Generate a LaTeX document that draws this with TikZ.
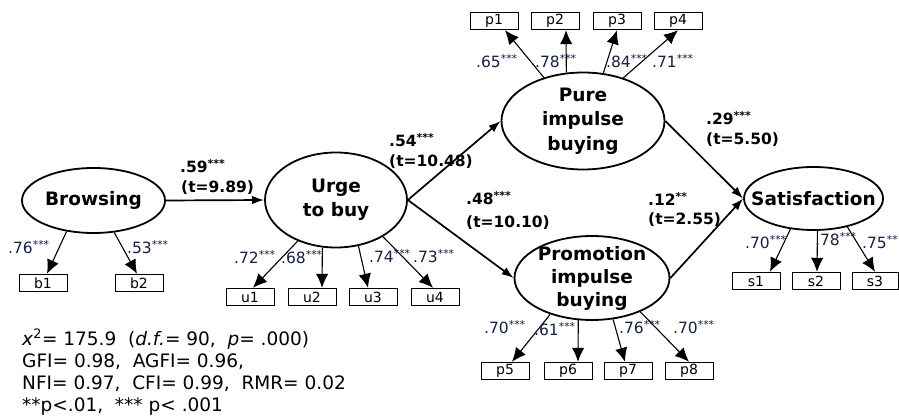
\documentclass[tikz,border=0pt]{standalone}
\usepackage{fontspec}
\setmainfont{DejaVu Sans}
\usetikzlibrary{shapes.geometric,arrows.meta}
\definecolor{loadc}{RGB}{22,32,72}
\begin{document}
\begin{tikzpicture}[x=1pt,y=-1pt,
  lat/.style={draw, ellipse, line width=1.8pt, inner sep=0pt},
  latlbl/.style={font=\fontsize{18.5}{24.5}\selectfont\bfseries, align=center, inner sep=0pt},
  obs/.style={draw, rectangle, line width=0.9pt, minimum width=48pt, minimum height=17.5pt, inner sep=0pt, font=\fontsize{14}{15}\selectfont},
  pth/.style={line width=1.7pt, -{Latex[length=12pt,width=8.5pt]}},
  load/.style={line width=1.1pt, -{Latex[length=14pt,width=12.5pt]}},
  coef/.style={font=\fontsize{15.5}{18}\selectfont\bfseries, anchor=base west, inner sep=0pt},
  ld/.style={font=\fontsize{15.5}{17}\selectfont, text=loadc, anchor=base west, inner sep=0pt},
  stat/.style={font=\fontsize{18.5}{21}\selectfont, anchor=base west, inner sep=0pt}]
\useasboundingbox (0,0) rectangle (899,419);
\fill[white] (0,0) rectangle (899,419);

% latent variables
\node[lat, minimum width=143pt, minimum height=65pt] (brow) at (93.5,200.5) {};
\node[latlbl] (browT) at (brow) {Browsing};
\node[lat, minimum width=142pt, minimum height=95pt] (urge) at (336,200) {};
\node[latlbl] (urgeT) at (urge) {Urge\\to buy};
\node[lat, minimum width=163pt, minimum height=97pt] (pure) at (583,121) {};
\node[latlbl] (pureT) at (pure) {Pure\\impulse\\buying};
\node[lat, minimum width=155pt, minimum height=84pt] (prom) at (592,278) {};
\node[latlbl, font=\fontsize{18.5}{23}\selectfont\bfseries] (promT) at (prom) {Promotion\\impulse\\buying};
\node[lat, minimum width=139pt, minimum height=63pt] (sat) at (813.5,198.5) {};
\node[latlbl] (satT) at (sat) {Satisfaction};

% observed variables
\node[obs] (p1) at (494,21) {p1};
\node[obs] (p2) at (555,21) {p2};
\node[obs] (p3) at (617,21) {p3};
\node[obs] (p4) at (678,21) {p4};
\node[obs] (b1) at (43,283) {b1};
\node[obs] (b2) at (139,283) {b2};
\node[obs] (u1) at (250,297) {u1};
\node[obs] (u2) at (312,297) {u2};
\node[obs] (u3) at (373,297) {u3};
\node[obs] (u4) at (435,297) {u4};
\node[obs] (p5) at (505,371) {p5};
\node[obs] (p6) at (568,371) {p6};
\node[obs] (p7) at (628,371) {p7};
\node[obs] (p8) at (689,371) {p8};
\node[obs] (s1) at (756,281) {s1};
\node[obs] (s2) at (816,281) {s2};
\node[obs, minimum width=46pt] (s3) at (875,281) {s3};

% structural paths
\draw[pth] (brow.east) -- (urge.west);
\draw[pth] (urge.east) -- (pure.west);
\draw[pth] (urge.east) -- (prom.west);
\draw[pth] (pure.east) -- (sat.west);
\draw[pth] (prom.east) -- (sat.west);

% loadings
\draw[load] (brow.-131) -- ([xshift=4pt]b1.north);
\draw[load] (brow.-57) -- ([xshift=-2pt]b2.north);
\draw[load] (urge.-133) -- ([xshift=3pt]u1.north);
\draw[load] (urge.-106) -- ([xshift=10pt]u2.north);
\draw[load] (urge.-64) -- ([xshift=-5pt]u3.north);
\draw[load] (urge.-38) -- ([xshift=-2pt]u4.north);
\draw[load] (pure.132) -- ([xshift=11pt]p1.south);
\draw[load] (pure.109.5) -- ([xshift=11pt]p2.south);
\draw[load] (pure.67) -- (p3.south);
\draw[load] (pure.47) -- (p4.south);
\draw[load] (prom.-139) -- ([xshift=7pt]p5.north);
\draw[load] (prom.-108) -- ([xshift=10pt]p6.north);
\draw[load] (prom.-63) -- ([xshift=-3pt]p7.north);
\draw[load] (prom.-35) -- (p8.north);
\draw[load] (sat.-127) -- ([xshift=14pt]s1.north);
\draw[load] (sat.-83) -- ([xshift=1pt]s2.north);
\draw[load] (sat.-40) -- (s3.north);

% path coefficients
\node[coef] (c1a) at (180,173) {.59\textsuperscript{***}};
\node[coef] (c1b) at (181,193) {(t=9.89)};
\node[coef] (c2a) at (389,147) {.54\textsuperscript{***}};
\node[coef] (c2b) at (389,167) {(t=10.48)};
\node[coef] (c3a) at (466,205) {.48\textsuperscript{***}};
\node[coef] (c3b) at (466,228) {(t=10.10)};
\node[coef] (c4a) at (706,125) {.29\textsuperscript{***}};
\node[coef] (c4b) at (706,145) {(t=5.50)};
\node[coef] (c5a) at (648,206) {.12\textsuperscript{**}};
\node[coef] (c5b) at (648,225) {(t=2.55)};

% loading values
\node[ld] (lb1) at (8,254) {.76\textsuperscript{***}};
\node[ld] (lb2) at (127,254) {.53\textsuperscript{***}};
\node[ld] (lu1) at (234,263.5) {.72\textsuperscript{***}};
\node[ld] (lu2) at (281,263.5) {.68\textsuperscript{***}};
\node[ld] (lu3) at (369,262.5) {.74\textsuperscript{***}};
\node[ld] (lu4) at (413,262.5) {.73\textsuperscript{***}};
\node[ld] (lp1) at (476,67.5) {.65\textsuperscript{***}};
\node[ld] (lp2) at (535,67.5) {.78\textsuperscript{***}};
\node[ld] (lp3) at (606,67.5) {.84\textsuperscript{***}};
\node[ld] (lp4) at (652,67.5) {.71\textsuperscript{***}};
\node[ld] (lp5) at (484,333.5) {.70\textsuperscript{***}};
\node[ld] (lp6) at (534,336) {.61\textsuperscript{***}};
\node[ld] (lp7) at (619,333.5) {.76\textsuperscript{***}};
\node[ld] (lp8) at (673,333.5) {.70\textsuperscript{***}};
\node[ld] (ls1) at (745,248.5) {.70\textsuperscript{***}};
\node[ld] (ls2) at (815,245.5) {.78\textsuperscript{***}};
\node[ld] (ls3) at (862,248.5) {.75\textsuperscript{**}};

% fit statistics
\node[stat] (st1) at (22,345) {\textit{x}\textsuperscript{2}= 175.9 \ (\textit{d.f.}= 90, \ \textit{p}= .000)};
\node[stat] (st2) at (22,367) {GFI= 0.98, \ AGFI= 0.96,};
\node[stat] (st3) at (22,389) {NFI= 0.97, \ CFI= 0.99, \ RMR= 0.02};
\node[stat] (st4) at (22,411) {**p<.01, \ *** p< .001};
\end{tikzpicture}
\end{document}
